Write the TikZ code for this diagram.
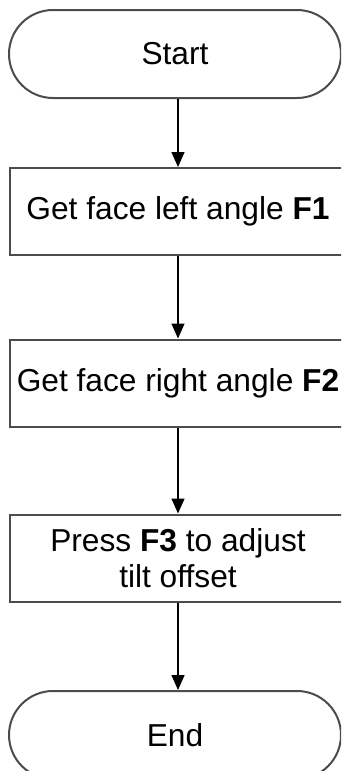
\documentclass[tikz,border=0pt]{standalone}
\usepackage{fontspec}
\setmainfont{Liberation Sans}
\usetikzlibrary{arrows.meta}
\begin{document}
\begin{tikzpicture}[x=1pt,y=-1pt,
  every node/.style={font=\fontsize{31.7}{36}\selectfont, text=black, inner sep=0pt},
  terminal/.style={draw=black!70, line width=2pt, minimum width=332pt, minimum height=88pt, rounded corners=44pt},
  stepbox/.style={draw=black!70, line width=2pt, minimum width=336pt, minimum height=87pt, align=center},
  flow/.style={draw=black, line width=1.5pt, -{Triangle[width=13pt,length=15pt]}}]
\path[use as bounding box, clip] (0,0) rectangle (341,771);
\fill[white] (0,0) rectangle (341,771);
\node[terminal] (start) at (175,54) {Start};
\node[stepbox] (f1) at (178,211.5) {Get face left angle \textbf{F1}};
\node[stepbox] (f2) at (178,383) {Get face right angle \textbf{F2}};
\node[stepbox] (f3) at (178,558) {Press \textbf{F3} to adjust\\tilt offset};
\node[terminal] (end) at (175,735) {End};
\draw[flow] (start.south -| f1.north) -- (f1.north);
\draw[flow] (f1.south) -- (f2.north);
\draw[flow] (f2.south) -- (f3.north);
\draw[flow] (f3.south) -- (end.north -| f3.south);
\end{tikzpicture}
\end{document}
